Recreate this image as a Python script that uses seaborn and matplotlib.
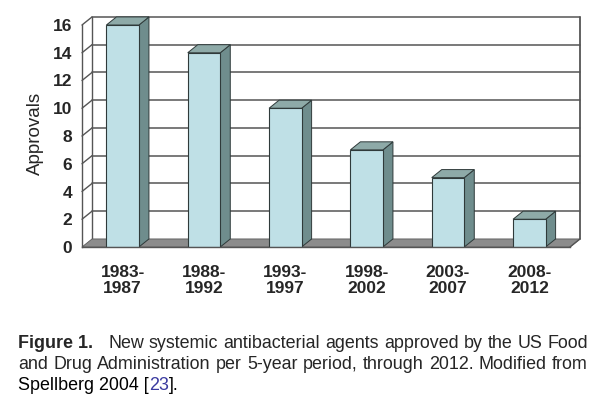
import matplotlib
matplotlib.use('Agg')
import matplotlib.pyplot as plt
from matplotlib.patches import Polygon
import seaborn as sns
import pandas as pd

# --- data ---
periods = ['1983-\n1987', '1988-\n1992', '1993-\n1997', '1998-\n2002', '2003-\n2007', '2008-\n2012']
approvals = [16, 14, 10, 7, 5, 2]
y_ticks = [0, 2, 4, 6, 8, 10, 12, 14, 16]

caption_head = 'Figure 1.'
caption_line1 = 'New systemic antibacterial agents approved by the US Food'
caption_line2 = 'and Drug Administration per 5-year period, through 2012. Modified from'
caption_line3 = ['Spellberg 2004 [', '23', '].']

# colours
FRONT = '#bfe0e6'
SIDE = '#6f8d8d'
TOP = '#8eaaa8'
FLOOR = '#8c8c8c'
GRID = '#555555'
EDGE = '#2f3a3a'

sns.set_style('white')
plt.rcParams['font.family'] = ['Liberation Sans', 'DejaVu Sans']

fig = plt.figure(figsize=(6, 4.03), dpi=100)
ax = fig.add_axes([82 / 600, 1 - 247 / 403, 488 / 600, 222 / 403])

df = pd.DataFrame({'period': periods, 'approvals': approvals})
sns.barplot(data=df, x='period', y='approvals', width=0.4, color=FRONT,
            edgecolor=EDGE, linewidth=0.8, saturation=1, ax=ax, zorder=5)

ax.set_xlim(-0.5, 5.5)
ax.set_ylim(0, 16)

# depth of the fake 3D box (data units)
dx, dy = 0.123, 0.58
x_left, x_right = -0.5, 5.5

# floor
ax.add_patch(Polygon([(x_left, 0), (x_right, 0), (x_right + dx, dy), (x_left + dx, dy)],
                     closed=True, facecolor=FLOOR, edgecolor='#5a5a5a', lw=0.6,
                     zorder=2, clip_on=False))

# back wall gridlines + left wall diagonals
for y in y_ticks[1:]:
    ax.plot([x_left + dx, x_right + dx], [y + dy, y + dy], color=GRID, lw=1.1,
            zorder=1, clip_on=False)
    ax.plot([x_left, x_left + dx], [y, y + dy], color=GRID, lw=1.0,
            zorder=1, clip_on=False)
ax.plot([x_left + dx, x_left + dx], [dy, 16 + dy], color=GRID, lw=1.0, zorder=1, clip_on=False)
ax.plot([x_right + dx, x_right + dx], [dy, 16 + dy], color=GRID, lw=1.3, zorder=1, clip_on=False)
ax.plot([x_right, x_right + dx], [0, dy], color=GRID, lw=1.0, zorder=3, clip_on=False)

# 3D sides and tops of the bars
for p in list(ax.patches):
    if not hasattr(p, 'get_x') or p.get_height() <= 0:
        continue
    x0, w, h = p.get_x(), p.get_width(), p.get_height()
    ax.add_patch(Polygon([(x0 + w, 0), (x0 + w + dx, dy), (x0 + w + dx, h + dy), (x0 + w, h)],
                         closed=True, facecolor=SIDE, edgecolor=EDGE, lw=0.7,
                         zorder=4, clip_on=False))
    ax.add_patch(Polygon([(x0, h), (x0 + dx, h + dy), (x0 + w + dx, h + dy), (x0 + w, h)],
                         closed=True, facecolor=TOP, edgecolor=EDGE, lw=0.7,
                         zorder=4, clip_on=False))

# axes styling
for s in ['top', 'right']:
    ax.spines[s].set_visible(False)
for s in ['left', 'bottom']:
    ax.spines[s].set_color(GRID)
    ax.spines[s].set_linewidth(1.0)
ax.spines['bottom'].set_zorder(6)

ax.set_yticks(y_ticks)
ax.set_yticklabels([str(v) for v in y_ticks], fontsize=12.5, fontweight='bold')
ax.tick_params(axis='y', direction='out', length=3, width=1, color=GRID, pad=4)

ax.set_xticks(range(len(periods)))
ax.set_xticklabels(periods, fontsize=12.5, fontweight='bold', linespacing=1.1)
ax.set_xticks([i - 0.5 for i in range(len(periods) + 1)], minor=True)
ax.tick_params(axis='x', which='major', length=0, pad=13)
ax.tick_params(axis='x', which='minor', direction='out', length=3, width=1, color=GRID)

ax.set_xlabel('')
ax.set_ylabel('Approvals', fontsize=13.5)
ax.yaxis.set_label_coords(-0.078, 0.51)

# caption: size chosen so the full second line fills the text block, then justified
cap_font = ['Liberation Sans Narrow', 'Liberation Sans', 'DejaVu Sans']
fig.canvas.draw()
renderer = fig.canvas.get_renderer()
left_px, right_px = 18, 588

probe = fig.text(0, 0, caption_line2, fontsize=10, family=cap_font)
cap_size = 10 * (right_px - left_px) / probe.get_window_extent(renderer).width
probe.remove()


def place_line(words, y_px, extra_first=0, head_bold=False):
    items = []
    for i, wd in enumerate(words):
        weight = 'bold' if (head_bold and i == 0) else 'normal'
        t = fig.text(0, 1 - y_px / 403, wd, fontsize=cap_size, fontweight=weight,
                     family=cap_font, va='baseline', ha='left')
        items.append((t, t.get_window_extent(renderer).width))
    total = sum(w for _, w in items)
    gap = (right_px - left_px - total - extra_first) / (len(items) - 1)
    x = left_px
    for i, (t, w) in enumerate(items):
        t.set_x(x / 600)
        x += w + gap + (extra_first if i == 0 else 0)


place_line([caption_head] + caption_line1.split(), 348, extra_first=10, head_bold=True)
place_line(caption_line2.split(), 369)

x = left_px
for part in caption_line3:
    color = '#3a3aa0' if part == '23' else 'black'
    t = fig.text(x / 600, 1 - 390 / 403, part, fontsize=cap_size, family=cap_font,
                 va='baseline', ha='left', color=color)
    x += t.get_window_extent(renderer).width

fig.savefig('out.png', dpi=100)
